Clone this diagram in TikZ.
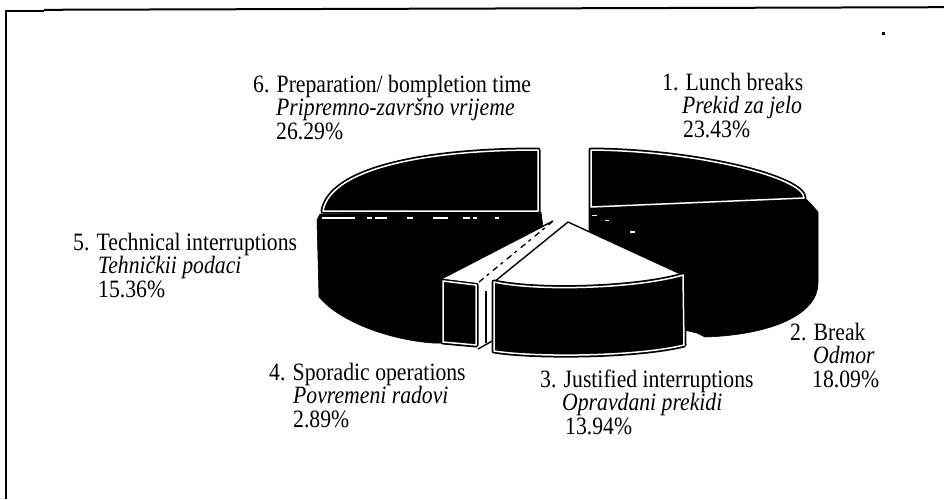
\documentclass[tikz,border=0pt]{standalone}
\usepackage{fontspec}
\usepackage{graphicx}
\setmainfont{Liberation Serif}
\newcommand\lblfont{\fontsize{21.7}{26}\selectfont}
\newcommand\vst[1]{\scalebox{1}[1.15]{#1}}
\tikzset{
  darkface/.style={fill=black, draw=white, line width=1.5pt, line join=round,
     preaction={draw=black, line width=5pt, line join=round}},
  lightface/.style={fill=white, draw=black, line width=1.4pt, line join=round},
  body/.style={fill=black, draw=black, line width=0.6pt, line join=round},
  lbl/.style={anchor=base west, inner sep=0pt, font=\lblfont},
  framerule/.style={line width=2pt},
  fleck/.style={draw=white, line width=1.6pt},
  edgeline/.style={draw=black, line width=1.4pt},
  seam/.style={draw=black, line width=1.3pt, dash pattern=on 6pt off 4pt on 3pt off 5pt}
}
\begin{document}
\begin{tikzpicture}[x=1pt, y=-1pt]
\fill[white] (0,0) rectangle (944,499);
\useasboundingbox (0,0) rectangle (944,499);
% frame
\draw[framerule] (6,499) -- (6,10.8) -- (44,10.8);
\draw[framerule] (44,9.8) -- (944,7.2);
\fill (882,31.5) rectangle (884.5,35);
% slices 5 and 6: body
\path[body] (538,212) -- (320,214) -- (317,220) -- (319,297)
   .. controls (340,322) and (390,340) .. (433,343) -- (446,343) -- (446,280)
   -- (543,227) -- (541,212) -- cycle;
% slice 6: top face
\path[darkface] (538,211) -- (538,150) .. controls (420,150) and (330,170) .. (323,211) -- cycle;
\foreach \a/\b in {322/355, 367/372, 375/387, 407/413, 433/448, 463/470, 473/477, 495/499}
  \draw[fleck] (\a,218) -- (\b,218);
% slices 1 and 2: body
\path[body] (589,207) -- (806,199) -- (812,205) -- (818,212) -- (818,283)
   .. controls (818,315) and (770,335) .. (705,337) -- (697,333) -- (684,330)
   -- (620,260) -- (589,232) -- cycle;
% slice 1: top face
\path[darkface] (591,207) -- (591,150) .. controls (700,151) and (804,178) .. (804,198) -- cycle;
\foreach \a/\b/\y in {592/597/215.5, 605/609/220.5, 630/635/232}
  \draw[fleck] (\a,\y) -- (\b,\y);
% slice 4
\fill[white] (478,284) -- (553,221) -- (553,290) -- (478,349) -- cycle;
\draw[edgeline] (478,349) -- (494,340);
\draw[edgeline] (486,291) -- (486,343);
\path[darkface] (443,281) -- (476,285) -- (476,345) -- (443,342) -- cycle;
\fill[white] (442,278.5) -- (478,283) -- (553,221) -- cycle;
\draw[edgeline] (441,279) -- (553,221);
\draw[seam] (479,282) -- (552,222);
% slice 3
\path[lightface] (568,222) -- (683,275) .. controls (640,288) and (540,292) .. (494,282) -- cycle;
\path[darkface] (494,282) .. controls (540,292) and (640,288) .. (683,275) -- (684,345)
   .. controls (640,356) and (540,358) .. (494,351) -- cycle;
% labels
\node[lbl] (l1a) at (662,90) {\vst{1. Lunch breaks}};
\node[lbl] (l1b) at (682,113.5) {\vst{\itshape Prekid za jelo}};
\node[lbl] (l1c) at (683,137) {\vst{23.43\%}};
\node[lbl] (l2a) at (790,340) {\vst{2. Break}};
\node[lbl] (l2b) at (813,363.5) {\vst{\itshape Odmor}};
\node[lbl] (l2c) at (812,387) {\vst{18.09\%}};
\node[lbl] (l3a) at (540,387) {\vst{3. Justified interruptions}};
\node[lbl] (l3b) at (562,410.5) {\vst{\itshape Opravdani prekidi}};
\node[lbl] (l3c) at (565,434.5) {\vst{13.94\%}};
\node[lbl] (l4a) at (269,380) {\vst{4. Sporadic operations}};
\node[lbl] (l4b) at (293,403.5) {\vst{\itshape Povremeni radovi}};
\node[lbl] (l4c) at (293,427.5) {\vst{2.89\%}};
\node[lbl] (l5a) at (73,250) {\vst{5. Technical interruptions}};
\node[lbl] (l5b) at (98,273.5) {\vst{\itshape Tehničkii podaci}};
\node[lbl] (l5c) at (98,297.5) {\vst{15.36\%}};
\node[lbl] (l6a) at (253,92) {\vst{6. Preparation/ bompletion time}};
\node[lbl] (l6b) at (276,115.5) {\vst{\itshape Pripremno-završno vrijeme}};
\node[lbl] (l6c) at (276,139) {\vst{26.29\%}};
\end{tikzpicture}
\end{document}
